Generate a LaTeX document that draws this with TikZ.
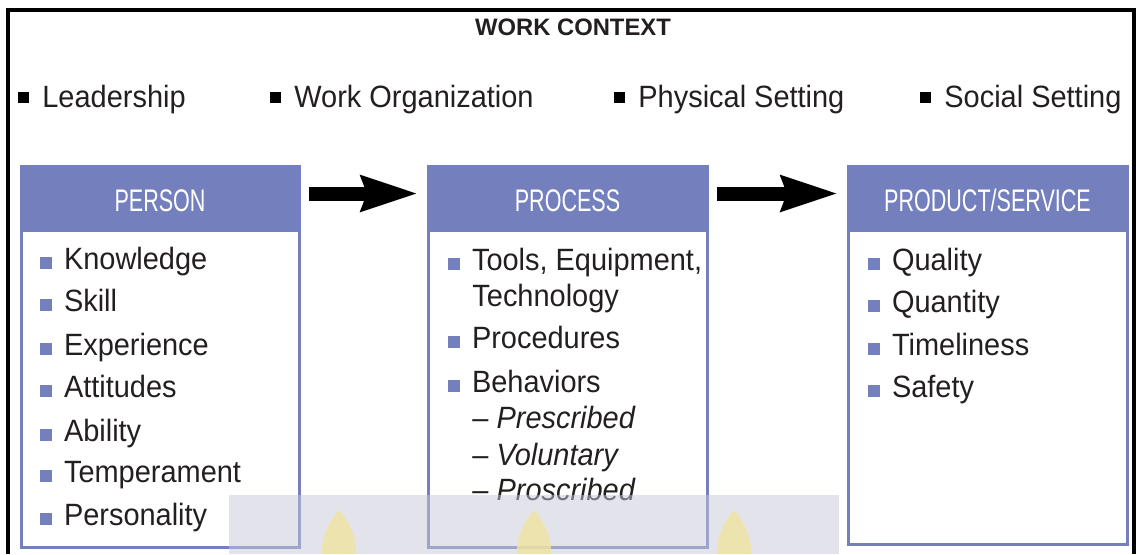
\documentclass[tikz,border=0pt]{standalone}
\usepackage{fontspec}
\setmainfont{Liberation Sans}
\newfontfamily\itemfont{Liberation Sans}[FakeStretch=0.94]
\newfontfamily\headfont{Liberation Sans}[FakeStretch=0.69]
\usepackage{xcolor}
\definecolor{hblue}{RGB}{116,128,190}
\definecolor{htext}{RGB}{35,31,32}
\definecolor{hwater}{RGB}{200,200,218}
\definecolor{hflame}{RGB}{240,228,160}
\usetikzlibrary{arrows.meta}
\tikzset{
  head/.style={fill=hblue, text=white, minimum width=139pt, minimum height=33pt, inner sep=0pt, text height=0.716em, text depth=0pt, font=\headfont\fontsize{15.6}{17}\selectfont},
  item/.style={anchor=base west, inner sep=0pt, text=htext, font=\itemfont\fontsize{15.4}{18}\selectfont},
  boxline/.style={draw=hblue, line width=1.5pt},
  flow/.style={line width=7pt, -{Stealth[length=28pt,width=17pt,inset=2.5pt]}, shorten <=5pt, shorten >=5pt},
}
\newcommand{\bsq}{{\color{hblue}\rule{5.8pt}{5.8pt}}\hspace{6pt}}
\newcommand{\ksq}{{\color{black}\rule[2pt]{5.5pt}{5.5pt}}\hspace{6.5pt}}

\begin{document}
\begin{tikzpicture}[x=0.5pt,y=-0.5pt]
\useasboundingbox (0,0) rectangle (1136,554);
\draw[line width=2pt] (8,554) |- (1134,10) -- (1134,554);
\node[anchor=base, inner sep=0pt, text=htext, font=\bfseries\fontsize{11.9}{14}\selectfont] (title) at (573,35.5) {WORK CONTEXT};
% context factors
\node[item] (lead) at (18,107) {\ksq Leadership};
\node[item] (org) at (270,107) {\ksq Work Organization};
\node[item] (phys) at (614,107) {\ksq Physical Setting};
\node[item] (soc) at (920,107) {\ksq Social Setting};
% boxes
\draw[boxline] (21,166) rectangle (299,547);
\draw[boxline] (428,166) rectangle (707,547);
\draw[boxline] (848,166) rectangle (1127,544);
\node[head] (person) at (160,199) {\raisebox{-2.5pt}{PERSON}};
\node[head] (process) at (567.5,199) {\raisebox{-2.5pt}{PROCESS}};
\node[head] (product) at (987.5,199) {\raisebox{-2.5pt}{PRODUCT/SERVICE}};
\draw[flow] ([yshift=2.75pt]person.east) -- ([yshift=2.75pt]process.west);
\draw[flow] ([yshift=2.75pt]process.east) -- ([yshift=2.75pt]product.west);
% person
\foreach \t/\y in {Knowledge/269, Skill/311, Experience/355, Attitudes/397, Ability/441, Temperament/482, Personality/525}
  \node[item] at (40,\y) {\bsq\t};
% process
\node[item] (tools) at (448,270) {\bsq Tools, Equipment,};
\node[item] (tech) at (472,306) {Technology};
\node[item] (proc) at (448,348) {\bsq Procedures};
\node[item] (beh) at (448,392) {\bsq Behaviors};
\node[item] (pre) at (472,428) {\textendash\ \textit{Prescribed}};
\node[item] (vol) at (472,465) {\textendash\ \textit{Voluntary}};
\node[item] (pro) at (472,500) {\textendash\ \textit{Proscribed}};
% product
\foreach \t/\y in {Quality/270, Quantity/312, Timeliness/355, Safety/397}
  \node[item] at (868,\y) {\bsq\t};
% watermark
\fill[hwater, opacity=0.5] (229,495) rectangle (839,554);
\foreach \x in {339,534,734}
  \fill[hflame, opacity=0.8] (\x,510) .. controls (\x+14,525) and (\x+18,545) .. (\x+17,554) -- (\x-17,554) .. controls (\x-18,545) and (\x-14,525) .. (\x,510);
\end{tikzpicture}
\end{document}
